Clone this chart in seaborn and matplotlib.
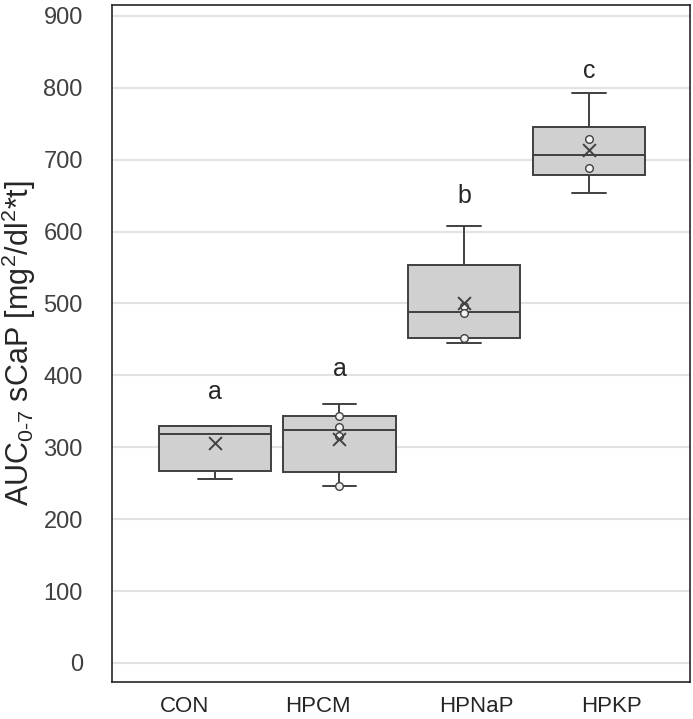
import matplotlib
matplotlib.use("Agg")
import matplotlib.pyplot as plt
import seaborn as sns
import numpy as np
import pandas as pd

groups = ["CON", "HPCM", "HPNaP", "HPKP"]
box_min = [256, 246, 445, 653]
box_q1 = [267, 265, 452, 679]
box_med = [318, 324, 488, 706]
box_q3 = [330, 343, 553, 745]
box_max = [330, 360, 608, 793]

# mean markers (x) and the inner points shown as circles
means = [306, 311, 501, 713]
point_groups = ["HPCM", "HPCM", "HPCM", "HPCM",
                "HPNaP", "HPNaP", "HPNaP",
                "HPKP", "HPKP"]
point_values = [343, 328, 315, 246,
                496, 486, 452,
                729, 689]

# significance letters and where their baselines sit
letters = ["a", "a", "b", "c"]
letter_y = [367, 399, 640, 813]

# x label shift relative to each box centre (labels are off-centre in the original)
label_shift = [-0.24, -0.17, 0.10, 0.18]

sns.set_style("white")
plt.rcParams["font.family"] = ["Liberation Sans", "DejaVu Sans"]
plt.rcParams["mathtext.fontset"] = "custom"
plt.rcParams["mathtext.rm"] = "Liberation Sans"
plt.rcParams["mathtext.it"] = "Liberation Sans:italic"

box_df = pd.DataFrame({
    "group": np.repeat(groups, 5),
    "value": np.column_stack([box_min, box_q1, box_med, box_q3, box_max]).ravel(),
})
pts_df = pd.DataFrame({"group": point_groups, "value": point_values})
mean_df = pd.DataFrame({"group": groups, "value": means})

fig = plt.figure(figsize=(6.93, 7.19), dpi=100)
ax = fig.add_axes([0.1616, 0.052, 0.834, 0.941])

line_col = "#404040"
sns.boxplot(data=box_df, x="group", y="value", order=groups, ax=ax,
            color="#D0D0D0", saturation=1, width=0.9, whis=(0, 100),
            showfliers=False, linecolor=line_col, linewidth=1.4,
            capwidths=0.27)

sns.stripplot(data=pts_df, x="group", y="value", order=groups, ax=ax,
              jitter=False, size=5.5, color="#F2F2F2", edgecolor=line_col,
              linewidth=1.0, zorder=4)

ax.scatter([groups.index(g) for g in mean_df["group"]], mean_df["value"],
           marker="x", s=85, color=line_col, linewidths=1.4, zorder=5)

for i, (lt, ly) in enumerate(zip(letters, letter_y)):
    ax.text(i, ly, lt, ha="center", va="baseline", fontsize=18, color="#262626")

ax.set_ylim(-26, 915)
ax.set_xlim(-0.824, 3.81)
ax.set_yticks(np.arange(0, 901, 100))
ax.set_xticks(np.arange(len(groups)) + np.array(label_shift))
ax.set_xticklabels(groups)
ax.tick_params(axis="y", length=0, pad=21, labelsize=17, labelcolor="#404040")
ax.tick_params(axis="x", length=0, pad=10.5, labelsize=16, labelcolor="#262626")

ax.set_axisbelow(True)
ax.yaxis.grid(True, color="#E2E2E2", linewidth=1.5)
ax.xaxis.grid(False)
for s in ax.spines.values():
    s.set_visible(True)
    s.set_color("#262626")
    s.set_linewidth(1.2)

ax.set_xlabel("")
ax.set_ylabel(r"AUC$_{\mathregular{0\text{-}7}}$ sCaP [mg$^{\mathregular{2}}$/dl$^{\mathregular{2}}$*t]",
              fontsize=22, color="#262626")
ax.yaxis.set_label_coords(-0.128, 0.5)

fig.savefig("out.png", dpi=100)
